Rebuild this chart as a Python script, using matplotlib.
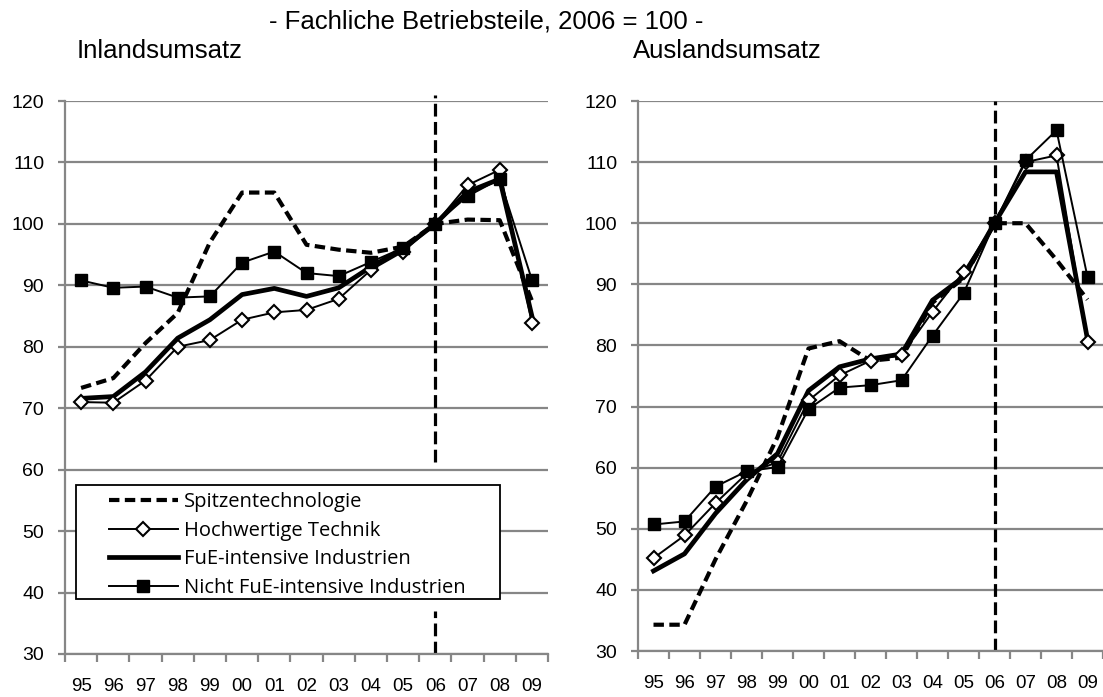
import matplotlib.pyplot as plt
from matplotlib.patches import Rectangle
import numpy as np

years = ['95', '96', '97', '98', '99', '00', '01', '02', '03', '04', '05', '06', '07', '08', '09']

# Inlandsumsatz
in_spitze = [73.3, 74.9, 80.6, 85.5, 97.0, 105.1, 105.1, 96.6, 95.8, 95.3, 96.3, 100, 100.7, 100.6, 87.5]
in_hoch = [71.0, 70.9, 74.5, 80.0, 81.1, 84.4, 85.6, 86.0, 87.8, 92.5, 95.5, 100, 106.3, 108.8, 83.9]
in_fue = [71.6, 71.9, 75.9, 81.4, 84.4, 88.5, 89.5, 88.2, 89.6, 93.0, 96.0, 100, 105.2, 107.3, 85.0]
in_nicht = [90.8, 89.6, 89.8, 88.0, 88.2, 93.7, 95.5, 92.0, 91.5, 93.8, 96.1, 100, 104.5, 107.3, 90.9]

# Auslandsumsatz
aus_spitze = [34.3, 34.3, 45.0, 54.5, 65.0, 79.5, 80.7, 77.5, 78.0, 87.0, 91.0, 100, 100.0, 94.0, 87.5]
aus_hoch = [45.2, 48.9, 54.2, 59.0, 60.9, 71.0, 75.1, 77.5, 78.4, 85.5, 92.0, 100, 110.0, 111.1, 80.5]
aus_fue = [43.1, 45.9, 52.5, 58.0, 62.3, 72.6, 76.5, 77.8, 78.6, 87.4, 91.2, 100, 108.4, 108.4, 81.0]
aus_nicht = [50.7, 51.2, 56.9, 59.4, 60.1, 69.6, 73.1, 73.5, 74.3, 81.6, 88.5, 100, 110.3, 115.2, 91.2]

names = ['Spitzentechnologie', 'Hochwertige Technik', 'FuE-intensive Industrien',
         'Nicht FuE-intensive Industrien']

grey = '#868686'
plt.rcParams['font.family'] = ['Liberation Sans', 'DejaVu Sans']

W, H = 1103, 697
fig = plt.figure(figsize=(W / 100, H / 100), dpi=100)
ax1 = fig.add_axes([65 / W, 1 - 654 / H, 483 / W, 553 / H])
ax2 = fig.add_axes([638 / W, 1 - 651 / H, 465 / W, 550 / H])

x = np.arange(len(years))


def draw(ax, spitze, hoch, fue, nicht):
    ax.plot(x, spitze, color='black', lw=3, dashes=(2.5, 1.3), label=names[0], zorder=3)
    ax.plot(x, hoch, color='black', lw=1.4, marker='D', ms=7.5, mfc='white', mec='black',
            mew=1.5, label=names[1], zorder=4)
    ax.plot(x, fue, color='black', lw=3.4, label=names[2], zorder=3)
    ax.plot(x, nicht, color='black', lw=1.4, marker='s', ms=9, mfc='black', mec='black',
            label=names[3], zorder=5)
    ax.set_xlim(-0.5, 14.5)
    ax.set_ylim(30, 120)
    ax.set_yticks(range(30, 121, 10))
    ax.set_xticks(x)
    ax.set_xticklabels(years)
    ax.set_xticks(np.arange(-0.5, 15, 1), minor=True)
    ax.grid(axis='y', color=grey, lw=1.6)
    ax.set_axisbelow(True)
    for s in ['top', 'right']:
        ax.spines[s].set_visible(False)
    for s in ['left', 'bottom']:
        ax.spines[s].set_color(grey)
        ax.spines[s].set_linewidth(1.6)
    ax.tick_params(axis='y', colors=grey, length=5, width=1.6, labelcolor='black',
                   labelsize=14, pad=10)
    ax.tick_params(axis='x', which='major', length=0, labelsize=13.5, pad=17)
    ax.tick_params(axis='x', which='minor', colors=grey, length=6, width=1.6)


draw(ax1, in_spitze, in_hoch, in_fue, in_nicht)
draw(ax2, aus_spitze, aus_hoch, aus_fue, aus_nicht)

# vertical marker at 2006 (left one is interrupted by the legend)
vkw = dict(color='black', lw=2.3, linestyles=(0, (4, 1.7)), clip_on=False, zorder=2)
ax1.vlines(11, 61.2, 121, **vkw)
ax1.vlines(11, 30, 37.0, **vkw)
ax2.vlines(11, 30, 120, **vkw)

# legend box
ax1.add_patch(Rectangle((76 / W, 1 - 599 / H), 424 / W, 114 / H, transform=fig.transFigure,
                        facecolor='white', edgecolor='black', lw=1.3, zorder=9, clip_on=False))
leg = ax1.legend(loc='upper left', bbox_to_anchor=(99 / W, 1 - 482 / H),
                 bbox_transform=fig.transFigure, frameon=False, handlelength=3.4,
                 labelspacing=0.43, borderpad=0, handletextpad=0.3,
                 prop={'family': 'Open Sans', 'size': 14.5})
leg.set_zorder(10)

fig.text(486 / W, 1 - 22 / H, '- Fachliche Betriebsteile, 2006 = 100 -', ha='center', va='center',
         fontsize=18.5)
fig.text(77 / W, 1 - 51 / H, 'Inlandsumsatz', ha='left', va='center', fontsize=18.5)
fig.text(633 / W, 1 - 51 / H, 'Auslandsumsatz', ha='left', va='center', fontsize=18.5)

fig.savefig('out.png', dpi=100)
